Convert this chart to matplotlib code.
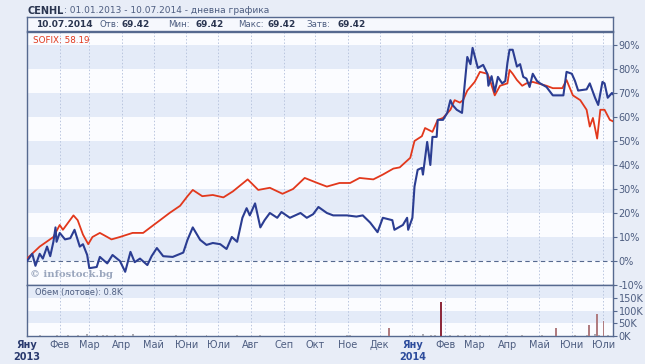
import matplotlib
matplotlib.use("Agg")
import matplotlib.pyplot as plt
import numpy as np
import pandas as pd

# ---------------- data ----------------
sofix_dates = ["2013-01-01","2013-01-13","2013-01-26","2013-02-01","2013-02-04","2013-02-14","2013-02-18",
               "2013-02-23","2013-02-28","2013-03-04","2013-03-11","2013-03-18","2013-03-22","2013-03-30",
               "2013-04-11","2013-04-21","2013-04-27","2013-05-07","2013-05-16","2013-05-26","2013-06-02",
               "2013-06-07","2013-06-16","2013-06-26","2013-07-06","2013-07-15","2013-07-29","2013-08-08",
               "2013-08-19","2013-08-31","2013-09-10","2013-09-21","2013-10-03","2013-10-12","2013-10-24",
               "2013-11-03","2013-11-12","2013-11-25","2013-12-04","2013-12-14","2013-12-20","2013-12-25",
               "2013-12-30","2014-01-03","2014-01-10","2014-01-13","2014-01-20","2014-01-25","2014-01-30",
               "2014-02-06","2014-02-10","2014-02-15","2014-02-18","2014-02-22","2014-03-01","2014-03-06",
               "2014-03-13","2014-03-15","2014-03-20","2014-03-25","2014-04-01","2014-04-03","2014-04-06",
               "2014-04-10","2014-04-15","2014-04-19","2014-04-25","2014-05-08","2014-05-14","2014-05-23",
               "2014-05-27","2014-06-02","2014-06-09","2014-06-15","2014-06-18","2014-06-21","2014-06-25",
               "2014-06-28","2014-07-02","2014-07-07","2014-07-10"]
sofix_pct = [1, 6, 10, 15, 13, 19, 17,
             11, 7, 10, 11.7, 10, 9, 10,
             11.7, 11.7, 13.7, 17, 20, 23, 27,
             29.6, 27, 27.5, 26.5, 29, 34, 29.6,
             30.5, 28, 30, 34.6, 32.5, 31, 32.5,
             32.5, 34.6, 34, 36, 38.5, 39, 41,
             43, 50, 52, 55.4, 53.8, 58.8, 59.6,
             63, 67, 66, 67, 71, 74.6, 78.8,
             78, 76, 69, 73, 74, 79.6, 78,
             75.4, 73, 74, 74.6, 73, 72, 72,
             75.4, 69, 67, 63, 56, 59.6, 51,
             63, 63, 58.8, 58.19]

cenhl_dates = ["2013-01-01","2013-01-06","2013-01-09","2013-01-13","2013-01-16","2013-01-20","2013-01-23",
               "2013-01-26","2013-01-28","2013-01-29","2013-02-01","2013-02-06","2013-02-11","2013-02-15",
               "2013-02-20","2013-02-23","2013-02-27","2013-03-01","2013-03-08","2013-03-11","2013-03-18",
               "2013-03-23","2013-03-30","2013-04-04","2013-04-09","2013-04-13","2013-04-18","2013-04-25",
               "2013-04-29","2013-05-04","2013-05-10","2013-05-19","2013-05-29","2013-06-02","2013-06-07",
               "2013-06-14","2013-06-20","2013-06-26","2013-07-03","2013-07-09","2013-07-14","2013-07-19",
               "2013-07-24","2013-07-28","2013-07-31","2013-08-05","2013-08-10","2013-08-14","2013-08-19",
               "2013-08-26","2013-08-30","2013-09-07","2013-09-17","2013-09-23","2013-09-29","2013-10-04",
               "2013-10-12","2013-10-18","2013-10-31","2013-11-09","2013-11-15","2013-11-22","2013-11-29",
               "2013-12-04","2013-12-13","2013-12-15","2013-12-23","2013-12-27","2013-12-28","2014-01-01",
               "2014-01-03","2014-01-06","2014-01-10","2014-01-11","2014-01-15","2014-01-18","2014-01-20",
               "2014-01-24","2014-01-25","2014-01-30","2014-02-03","2014-02-06","2014-02-08","2014-02-12",
               "2014-02-17","2014-02-22","2014-02-25","2014-02-27","2014-03-04","2014-03-09","2014-03-13",
               "2014-03-14","2014-03-17","2014-03-20","2014-03-23","2014-03-27","2014-03-30","2014-04-01",
               "2014-04-03","2014-04-06","2014-04-10","2014-04-13","2014-04-16","2014-04-19","2014-04-22",
               "2014-04-25","2014-04-29","2014-05-02","2014-05-08","2014-05-14","2014-05-24","2014-05-27",
               "2014-06-01","2014-06-04","2014-06-07","2014-06-15","2014-06-18","2014-06-23","2014-06-26",
               "2014-06-30","2014-07-02","2014-07-05","2014-07-09","2014-07-10"]
cenhl_pct = [0, 3, -2, 3, 1, 6, 2,
             8, 14, 8, 11.7, 9, 9.5, 13,
             6, 7, 2.5, -3, -2.5, 1.7, -1,
             2.5, 0, -4.5, 3.8, -0.5, 1, -1.7,
             2, 5.4, 2, 1.7, 3.5, 8.8, 14,
             8.8, 6.7, 7.5, 7, 5, 10, 8,
             18, 22, 19, 24, 14, 17, 20,
             18, 20.4, 18, 20, 18, 19.5, 22.5,
             20, 19, 19, 18.5, 19, 16, 12,
             18, 17, 13, 15, 18, 13, 18,
             31, 38, 38.8, 36, 49.6, 40, 51.7,
             51.7, 58.8, 58.8, 61.7, 67, 65, 63,
             61.7, 85, 82, 88.8, 80.4, 81.7, 78,
             73, 77, 70.4, 76.7, 74, 75, 82.5,
             88, 88, 81, 82, 76.7, 76, 72.5,
             78, 75, 74, 72.5, 69, 69, 78.8,
             78, 75, 71, 71.5, 74, 68, 65,
             74.6, 74, 68, 70, 69.5]

volume_dates = ["2013-01-13","2013-01-21","2013-01-29","2013-02-09","2013-02-18","2013-02-27","2013-03-08",
                "2013-03-14","2013-03-18","2013-03-25","2013-04-02","2013-04-11","2013-04-27","2013-05-13",
                "2013-05-22","2013-06-11","2013-06-20","2013-07-19","2013-08-10","2013-08-31","2013-10-31",
                "2013-11-03","2013-12-10","2013-12-30","2014-01-03","2014-01-11","2014-01-19","2014-01-22",
                "2014-01-28","2014-02-06","2014-02-13","2014-02-20","2014-02-25","2014-03-06","2014-03-15",
                "2014-03-31","2014-04-15","2014-05-04","2014-05-17","2014-06-04","2014-06-15","2014-06-17",
                "2014-06-23","2014-06-25","2014-06-27","2014-07-01","2014-07-05"]
volume_k = [2, 1, 3, 2, 2, 8, 2,
            3, 2, 2, 3, 7, 2, 1,
            2, 1, 2, 2, 2, 1, 2,
            3, 30, 2, 3, 8, 2, 3,
            135, 3, 4, 3, 2, 4, 2,
            3, 2, 3, 30, 2, 3, 45,
            8, 85, 4, 58, 3]

month_labels = ["Яну\n2013", "Фев", "Мар", "Апр", "Май", "Юни", "Юли", "Авг", "Сеп", "Окт",
                "Ное", "Дек", "Яну\n2014", "Фев", "Мар", "Апр", "Май", "Юни", "Юли"]
pct_ticks = [-10, 0, 10, 20, 30, 40, 50, 60, 70, 80, 90]
vol_ticks_k = [0, 50, 100, 150]

title_code = "CENHL"
title_rest = ": 01.01.2013 - 10.07.2014 - дневна графика"
info_date = "10.07.2014"
info_items = [("Отв:", "69.42"), ("Мин:", "69.42"), ("Макс:", "69.42"), ("Затв:", "69.42")]
sofix_label = "SOFIX: 58.19"
volume_label = "Обем (лотове): 0.8K"

# ---------------- style ----------------
W, H = 645, 364
BG = "#e8edf7"
BAND = "#e4ebf8"
WHITE = "#fbfcff"
FRAME = "#56698f"
TXT = "#4d5d80"
RED = "#e2381c"
BLUE = "#2b3d92"

plt.rcParams['font.family'] = ['DejaVu Sans']
fig = plt.figure(figsize=(W / 100, H / 100), dpi=100)
fig.patch.set_facecolor(BG)

def fx(px):
    return px / W

def fy(py):
    return 1 - py / H

left, right = 27, 613
ax = fig.add_axes([fx(left), fy(285), fx(right - left), fy(32) - fy(285)])
axv = fig.add_axes([fx(left), fy(336), fx(right - left), fy(285) - fy(336)], sharex=ax)
axi = fig.add_axes([fx(left), fy(31), fx(right - left), fy(17) - fy(31)])

sd = pd.to_datetime(sofix_dates)
cd = pd.to_datetime(cenhl_dates)
vd = pd.to_datetime(volume_dates)
x0, x1 = pd.Timestamp("2013-01-01"), pd.Timestamp("2014-07-10")
month_starts = pd.date_range("2013-01-01", "2014-07-01", freq="MS")

# main panel
ax.set_facecolor(WHITE)
for lo in range(0, 90, 20):
    ax.axhspan(lo, lo + 10, color=BAND, zorder=0, lw=0)
for m in month_starts[1:]:
    ax.axvline(m, color="#b9c5de", lw=0.7, ls=(0, (1.5, 2)), zorder=1)
    axv.axvline(m, color="#b9c5de", lw=0.7, ls=(0, (1.5, 2)), zorder=1)
ax.axhline(0, color=FRAME, lw=0.8, ls=(0, (4, 3)), zorder=2)
ax.plot(sd, sofix_pct, color=RED, lw=1.3, zorder=3)
ax.plot(cd, cenhl_pct, color=BLUE, lw=1.5, zorder=4)
ax.set_ylim(-10, 95.4)
ax.set_xlim(x0, x1)
ax.yaxis.tick_right()
ax.set_yticks(pct_ticks)
ax.set_yticklabels([f"{t}%" for t in pct_ticks])
ax.tick_params(axis='y', colors=FRAME, labelcolor=TXT, labelsize=7, length=3, width=0.8, pad=1)
ax.tick_params(axis='x', bottom=False, labelbottom=False)
for s in ax.spines.values():
    s.set_color(FRAME)
    s.set_linewidth(1.0)
ax.text(0.01, 0.985, sofix_label, transform=ax.transAxes, color=RED, fontsize=6.3,
        va='top', ha='left')
ax.text(0.005, 0.04, "© infostock.bg", transform=ax.transAxes, color="#9aa6bd",
        fontsize=7.2, family="DejaVu Serif", fontweight='bold', va='center', ha='left')

# volume panel
axv.set_facecolor(WHITE)
axv.axhspan(50, 100, color=BAND, zorder=0, lw=0)
axv.axhspan(150, 210, color=BAND, zorder=0, lw=0)
vcols = ["#8e2a3c" if v > 100 else ("#b07c80" if v > 20 else "#a8a8b0") for v in volume_k]
axv.bar(vd, volume_k, width=1.8, color=vcols, zorder=3)
axv.set_ylim(0, 201)
axv.yaxis.tick_right()
axv.set_yticks(vol_ticks_k)
axv.set_yticklabels([f"{t}K" for t in vol_ticks_k])
axv.tick_params(axis='y', colors=FRAME, labelcolor=TXT, labelsize=7, length=3, width=0.8, pad=1)
for s in axv.spines.values():
    s.set_color(FRAME)
    s.set_linewidth(1.0)
axv.text(0.014, 0.86, volume_label, transform=axv.transAxes, color=TXT, fontsize=6,
         va='center', ha='left')
axv.set_xticks(month_starts)
axv.set_xticklabels(month_labels)
axv.tick_params(axis='x', length=0, labelsize=7, labelcolor=TXT, pad=3)
for lbl, txt in zip(axv.get_xticklabels(), month_labels):
    if "\n" in txt:
        lbl.set_fontweight('bold')
        lbl.set_color("#2a3a6e" if "2013" in txt else "#2d4c9c")
axv.set_xlim(x0, x1)

# info box
axi.set_facecolor("#f6f8fd")
axi.set_xticks([])
axi.set_yticks([])
for s in axi.spines.values():
    s.set_color(FRAME)
    s.set_linewidth(1.0)
axi.set_xlim(left, right)
axi.set_ylim(0, 1)
axi.text(36, 0.45, info_date, fontsize=6.5, fontweight='bold', color="#2a3550", va='center', ha='left')
lab_x = [99, 168, 238, 306]
val_x = [122, 195, 268, 337]
for (lab, val), lx, vx in zip(info_items, lab_x, val_x):
    axi.text(lx, 0.45, lab, fontsize=6.2, color=TXT, va='center', ha='left')
    axi.text(vx, 0.45, val, fontsize=6.4, fontweight='bold', color="#2a3550", va='center', ha='left')

# title
fig.text(fx(28), fy(10.5), title_code, fontsize=7, fontweight='bold', color="#2a3550", va='center')
fig.text(fx(64), fy(10.5), title_rest, fontsize=6.5, color=TXT, va='center')

fig.savefig("out.png", dpi=100, facecolor=BG)
